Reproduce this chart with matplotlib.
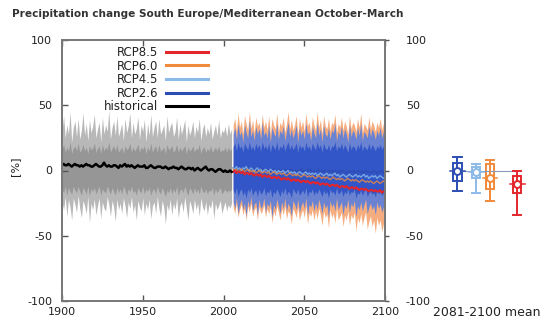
import numpy as np
import matplotlib
matplotlib.use('Agg')
import matplotlib.pyplot as plt

plt.rcParams['axes.unicode_minus'] = False

# --- data ---
hist_years = np.arange(1900, 2006)
hist_upper = [30, 42, 25, 35, 28, 45, 22, 33, 38, 26,
              40, 24, 31, 44, 27, 36, 23, 39, 29, 34,
              43, 25, 32, 37, 22, 41, 28, 35, 30, 46,
              24, 33, 38, 27, 42, 26, 31, 36, 23, 40,
              29, 34, 44, 25, 37, 28, 32, 41, 24, 35,
              30, 39, 22, 36, 27, 43, 26, 33, 38, 25,
              40, 28, 31, 35, 23, 42, 29, 34, 37, 26,
              30, 41, 24, 36, 28, 33, 39, 22, 35, 27,
              31, 38, 25, 34, 29, 40, 23, 32, 36, 26,
              33, 28, 37, 24, 30, 35, 27, 39, 25, 31,
              29, 34, 26, 36, 28, 32]
hist_lower = [-24, -30, -20, -35, -22, -28, -38, -21, -26, -32,
              -19, -29, -36, -23, -27, -33, -20, -40, -25, -30,
              -22, -34, -27, -21, -37, -24, -29, -31, -20, -26,
              -35, -23, -28, -39, -22, -30, -25, -33, -21, -27,
              -36, -24, -29, -20, -32, -26, -38, -23, -28, -31,
              -21, -34, -25, -30, -22, -37, -27, -24, -33, -20,
              -29, -35, -23, -28, -41, -26, -31, -22, -34, -25,
              -30, -21, -36, -27, -24, -32, -20, -29, -38, -23,
              -27, -33, -22, -30, -25, -35, -21, -28, -31, -24,
              -34, -26, -29, -22, -37, -25, -30, -27, -23, -33,
              -28, -24, -31, -26, -29, -25]
hist_inner_upper = [16, 20, 14, 18, 15, 22, 13, 17, 19, 15,
                    21, 14, 16, 20, 15, 18, 13, 19, 16, 17,
                    21, 14, 17, 19, 13, 20, 15, 18, 16, 22,
                    14, 17, 19, 15, 20, 14, 16, 18, 13, 19,
                    16, 17, 21, 14, 18, 15, 17, 20, 14, 18,
                    16, 19, 13, 18, 15, 21, 14, 17, 19, 14,
                    20, 15, 16, 18, 13, 20, 16, 17, 19, 14,
                    16, 20, 14, 18, 15, 17, 19, 13, 18, 15,
                    16, 19, 14, 17, 16, 20, 13, 17, 18, 14,
                    17, 15, 19, 14, 16, 18, 15, 19, 14, 16,
                    15, 18, 14, 18, 15, 17]
hist_inner_lower = [-14, -17, -12, -19, -13, -16, -18, -12, -15, -17,
                    -12, -16, -19, -13, -15, -18, -12, -19, -14, -16,
                    -13, -18, -15, -12, -19, -14, -16, -17, -12, -15,
                    -18, -13, -16, -19, -13, -17, -14, -18, -12, -15,
                    -19, -14, -16, -12, -17, -15, -19, -13, -16, -17,
                    -12, -18, -14, -16, -13, -19, -15, -14, -18, -12,
                    -16, -18, -13, -16, -20, -15, -17, -13, -18, -14,
                    -17, -12, -19, -15, -14, -17, -12, -16, -19, -13,
                    -15, -18, -13, -17, -14, -18, -12, -16, -17, -14,
                    -18, -15, -16, -13, -19, -14, -17, -15, -13, -18,
                    -16, -14, -17, -15, -16, -14]
hist_mean = [4, 5, 4, 4, 5, 4, 3, 4, 5, 4,
             4, 3, 4, 3, 4, 5, 4, 4, 3, 3,
             4, 5, 4, 3, 3, 4, 6, 4, 3, 4,
             3, 3, 4, 4, 3, 2, 4, 3, 4, 5,
             3, 4, 3, 4, 3, 2, 3, 4, 3, 3,
             3, 4, 2, 2, 3, 4, 3, 2, 2, 3,
             3, 3, 2, 2, 3, 2, 1, 2, 2, 3,
             2, 2, 1, 2, 3, 2, 1, 1, 2, 2,
             1, 2, 0, 1, 2, 1, 0, 1, 2, 3,
             1, 0, 1, 1, 0, -1, 0, 1, 1, 0,
             -1, 0, -1, -1, 0, -1]

rcp_years = np.arange(2006, 2101)
rcp26_upper = [28, 33, 24, 36, 27, 30, 22, 35, 29, 25,
               38, 26, 31, 23, 34, 28, 32, 24, 37, 27,
               30, 25, 35, 22, 33, 29, 26, 36, 24, 31,
               28, 34, 23, 30, 37, 26, 32, 25, 29, 35,
               22, 33, 27, 31, 24, 36, 28, 30, 23, 34,
               29, 25, 37, 27, 32, 22, 35, 28, 26, 33,
               24, 31, 29, 36, 23, 30, 27, 34, 25, 32,
               28, 22, 35, 26, 31, 29, 24, 33, 27, 36,
               23, 30, 28, 25, 34, 26, 32, 29, 24, 31,
               27, 33, 25, 30, 28]
rcp26_lower = [-24, -29, -21, -33, -26, -22, -30, -25, -35, -23,
               -28, -20, -31, -26, -24, -34, -22, -29, -27, -21,
               -32, -25, -28, -23, -36, -26, -30, -22, -27, -33,
               -24, -29, -21, -31, -25, -28, -35, -23, -26, -30,
               -22, -32, -27, -24, -29, -21, -34, -26, -28, -23,
               -31, -25, -30, -22, -27, -33, -24, -29, -26, -36,
               -23, -28, -25, -31, -21, -30, -27, -24, -34, -26,
               -29, -22, -32, -25, -28, -23, -35, -27, -30, -24,
               -31, -26, -22, -33, -28, -25, -30, -27, -34, -24,
               -29, -26, -32, -28, -25]
rcp26_inner_upper = [18, 21, 15, 22, 17, 19, 14, 21, 18, 16,
                     22, 16, 19, 15, 21, 17, 20, 15, 22, 17,
                     19, 16, 21, 14, 20, 18, 16, 22, 15, 19,
                     17, 21, 15, 19, 22, 16, 20, 16, 18, 21,
                     14, 20, 17, 19, 15, 22, 17, 19, 15, 21,
                     18, 16, 22, 17, 20, 14, 21, 17, 16, 20,
                     15, 19, 18, 22, 15, 19, 17, 21, 16, 20,
                     17, 14, 21, 16, 19, 18, 15, 20, 17, 22,
                     15, 19, 17, 16, 21, 16, 20, 18, 15, 19,
                     17, 20, 16, 19, 17]
rcp26_inner_lower = [-15, -18, -13, -20, -16, -14, -19, -16, -21, -14,
                     -17, -13, -19, -16, -15, -20, -14, -18, -17, -13,
                     -19, -16, -17, -14, -21, -16, -18, -14, -17, -20,
                     -15, -18, -13, -19, -16, -17, -21, -14, -16, -18,
                     -14, -19, -17, -15, -18, -13, -20, -16, -17, -14,
                     -19, -16, -18, -14, -17, -20, -15, -18, -16, -21,
                     -14, -17, -16, -19, -13, -18, -17, -15, -20, -16,
                     -18, -14, -19, -16, -17, -14, -21, -17, -18, -15,
                     -19, -16, -14, -20, -17, -16, -18, -17, -20, -15,
                     -18, -16, -19, -17, -16]
rcp60_upper = [35, 40, 30, 44, 33, 38, 28, 42, 36, 31,
               45, 32, 39, 29, 41, 34, 37, 30, 43, 33,
               38, 31, 42, 28, 40, 35, 32, 44, 30, 37,
               34, 41, 29, 36, 45, 32, 39, 31, 35, 42,
               28, 40, 33, 38, 30, 44, 34, 37, 29, 41,
               35, 31, 45, 33, 39, 28, 42, 34, 32, 40,
               30, 37, 35, 43, 29, 36, 33, 41, 31, 38,
               34, 28, 42, 32, 37, 35, 30, 40, 33, 44,
               29, 36, 34, 31, 41, 32, 38, 35, 30, 37,
               33, 40, 31, 36, 34]
rcp60_lower = [-28, -33, -25, -36, -30, -26, -34, -29, -38, -27,
               -32, -25, -35, -30, -28, -38, -27, -33, -31, -26,
               -36, -29, -33, -28, -40, -31, -35, -27, -32, -38,
               -29, -34, -27, -37, -31, -33, -41, -29, -32, -36,
               -28, -38, -33, -30, -36, -27, -41, -32, -35, -30,
               -38, -31, -37, -29, -34, -42, -31, -36, -33, -44,
               -30, -36, -33, -40, -29, -38, -35, -32, -43, -34,
               -38, -31, -42, -34, -37, -32, -46, -36, -40, -33,
               -42, -36, -32, -45, -39, -35, -43, -38, -48, -36,
               -42, -38, -47, -41, -37]
rcp85_mean = [-1, 0, -2, -1, -1, -2, -1, -3, -2, -2,
              -3, -2, -3, -4, -3, -3, -4, -3, -5, -4,
              -4, -5, -4, -5, -6, -5, -5, -6, -5, -6,
              -7, -6, -6, -7, -6, -7, -8, -7, -7, -8,
              -7, -8, -9, -8, -8, -9, -8, -9, -10, -9,
              -9, -10, -9, -10, -11, -10, -10, -11, -10, -11,
              -12, -11, -11, -12, -11, -12, -13, -12, -12, -13,
              -12, -13, -14, -13, -13, -14, -13, -14, -15, -14,
              -14, -15, -14, -15, -16, -15, -15, -16, -15, -16,
              -16, -15, -17, -16, -16]
rcp60_mean = [1, 0, 1, -1, 0, 1, 0, -1, 0, 1,
              -1, 0, -1, 0, -2, -1, 0, -1, -2, -1,
              -1, -2, -1, -3, -2, -1, -2, -3, -2, -2,
              -3, -2, -3, -4, -3, -2, -3, -4, -3, -4,
              -3, -4, -5, -4, -3, -4, -5, -4, -5, -4,
              -5, -6, -5, -4, -5, -6, -5, -6, -5, -6,
              -7, -6, -5, -6, -7, -6, -7, -6, -7, -8,
              -7, -6, -7, -8, -7, -8, -7, -8, -9, -8,
              -7, -8, -9, -8, -9, -8, -9, -10, -9, -8,
              -9, -10, -9, -8, -9]
rcp45_mean = [2, 1, 3, 1, 2, 0, 2, 1, 3, 1,
              0, 2, 1, -1, 1, 2, 0, 1, -1, 0,
              1, 0, -1, 1, 0, -1, 0, -2, 0, -1,
              -1, 0, -2, -1, 0, -2, -1, -2, -1, -3,
              -2, -1, -2, -3, -2, -1, -3, -2, -3, -2,
              -3, -2, -4, -3, -2, -3, -4, -3, -2, -4,
              -3, -4, -3, -2, -4, -3, -5, -4, -3, -4,
              -5, -4, -3, -4, -5, -4, -3, -5, -4, -5,
              -4, -3, -5, -4, -6, -5, -4, -5, -4, -6,
              -5, -4, -5, -6, -5]
rcp26_mean = [2, 1, 2, 0, 1, 2, 1, 0, 1, 2,
              0, 1, 2, 1, 0, 1, 0, 2, 1, 0,
              1, 0, 1, -1, 0, 1, 0, -1, 1, 0,
              -1, 0, 1, 0, -1, 0, 1, -1, 0, 0,
              -1, 0, 1, 0, -1, 0, -1, 1, 0, -1,
              0, -1, 0, 1, -1, 0, -1, 0, -2, 0,
              -1, 0, -1, 0, -1, -2, 0, -1, 0, -1,
              -2, -1, 0, -1, -1, 0, -2, -1, 0, -1,
              -1, -2, 0, -1, -1, -2, -1, 0, -1, -2,
              -1, -1, 0, -2, -1]

# 2081-2100 mean: whisker low, box low, centre, box high, whisker high
scen_names = ['RCP2.6', 'RCP4.5', 'RCP6.0', 'RCP8.5']
box_low = [-16, -17, -23, -34]
box_q1 = [-8, -6, -14, -17]
box_mid = [0, -1.5, -6, -10]
box_q3 = [6, 3, 5, -4]
box_high = [10, 5, 8, 0]

c85 = '#e3262b'
c60 = '#f08a3c'
c45 = '#8cbbe8'
c26 = '#2d4db3'
grey = '#555555'
txt = '#222222'

fig = plt.figure(figsize=(5.54, 3.27), dpi=100)
W, H = 554, 327
ax = fig.add_axes([62 / W, 1 - 301 / H, (385 - 62) / W, (301 - 40) / H])

ax.fill_between(hist_years, hist_lower, hist_upper, color='#b8b8b8', lw=0)
ax.fill_between(hist_years, hist_inner_lower, hist_inner_upper, color='#969696', lw=0)
ax.fill_between(rcp_years, rcp60_lower, rcp60_upper, color='#f5ad80', lw=0)
ax.fill_between(rcp_years, rcp26_lower, rcp26_upper, color='#5a7fdc', alpha=0.9, lw=0)
ax.fill_between(rcp_years, rcp26_inner_lower, rcp26_inner_upper, color='#3256c8', lw=0)

ax.plot(rcp_years, rcp26_mean, color=c26, lw=1.0)
ax.plot(rcp_years, rcp45_mean, color=c45, lw=1.0, alpha=0.8)
ax.plot(rcp_years, rcp60_mean, color=c60, lw=1.0, alpha=0.8)
ax.plot(rcp_years, rcp85_mean, color=c85, lw=1.5)
ax.plot(hist_years, hist_mean, color='black', lw=1.8)

# legend (lines only, labels to the left)
h85, = ax.plot([], [], color=c85, lw=2.2, label='RCP8.5')
h60, = ax.plot([], [], color=c60, lw=2.2, label='RCP6.0')
h45, = ax.plot([], [], color=c45, lw=2.2, label='RCP4.5')
h26, = ax.plot([], [], color=c26, lw=2.2, label='RCP2.6')
hh, = ax.plot([], [], color='black', lw=2.2, label='historical')
leg = ax.legend(handles=[h85, h60, h45, h26, hh], loc='upper right',
                bbox_to_anchor=(208 / W, 1 - 46 / H), bbox_transform=fig.transFigure,
                frameon=False, markerfirst=False, fontsize=8.5, handlelength=3.6,
                handletextpad=0.6, labelspacing=0.05, borderpad=0, borderaxespad=0)
for t in leg.get_texts():
    t.set_color(txt)

ax.set_xlim(1900, 2100)
ax.set_ylim(-100, 100)
ax.set_xticks([1900, 1950, 2000, 2050, 2100])
ax.set_yticks([-100, -50, 0, 50, 100])
ax.tick_params(axis='both', direction='in', length=4, width=1, colors=grey,
               labelsize=8, labelcolor=txt, top=True, right=True)
ax.tick_params(axis='y', pad=7)
ax.tick_params(axis='x', pad=4)
for s in ax.spines.values():
    s.set_color('#777777')
    s.set_linewidth(1.4)

# right-hand labels sit further from the frame
axr = ax.twinx()
axr.set_ylim(-100, 100)
axr.set_yticks([-100, -50, 0, 50, 100])
axr.tick_params(axis='y', direction='out', length=3, width=1, colors=grey,
                labelsize=8, labelcolor=txt, pad=12)
for s in axr.spines.values():
    s.set_visible(False)

fig.text(15 / W, 1 - 166 / H, '[%]', rotation=90, ha='center', va='center',
         fontsize=8, color=txt)

# box panel for 2081-2100 mean
ax2 = fig.add_axes([430 / W, 1 - 301 / H, 105 / W, (301 - 40) / H])
ax2.set_xlim(0, 10)
ax2.set_ylim(-100, 100)
ax2.axis('off')
pos = [2.6, 4.4, 5.7, 8.3]
cols = [c26, c45, c60, c85]
ax2.plot([2.6, 8.3], [0, 0], color='#8899bb', lw=0.8)
for i in range(4):
    x = pos[i]
    c = cols[i]
    ax2.plot([x, x], [box_low[i], box_high[i]], color=c, lw=1.4)
    ax2.plot([x - 0.4, x + 0.4], [box_low[i], box_low[i]], color=c, lw=1.4)
    ax2.plot([x - 0.4, x + 0.4], [box_high[i], box_high[i]], color=c, lw=1.4)
    ax2.add_patch(plt.Rectangle((x - 0.4, box_q1[i]), 0.8, box_q3[i] - box_q1[i],
                                fill=False, edgecolor=c, lw=1.4))
    ax2.plot([x - 0.7, x + 0.7], [box_mid[i], box_mid[i]], color=c, lw=1.1)
    ax2.plot(x, box_mid[i], 'o', mfc='white', mec=c, mew=1.4, ms=5)

fig.text(487 / W, 1 - 313 / H, '2081-2100 mean', ha='center', va='center',
         fontsize=9, color=txt)
fig.text(12 / W, 1 - 14 / H, 'Precipitation change South Europe/Mediterranean October-March',
         ha='left', va='center', fontsize=7.6, fontweight='bold', color='#333333')

fig.savefig('out.png', dpi=100)
